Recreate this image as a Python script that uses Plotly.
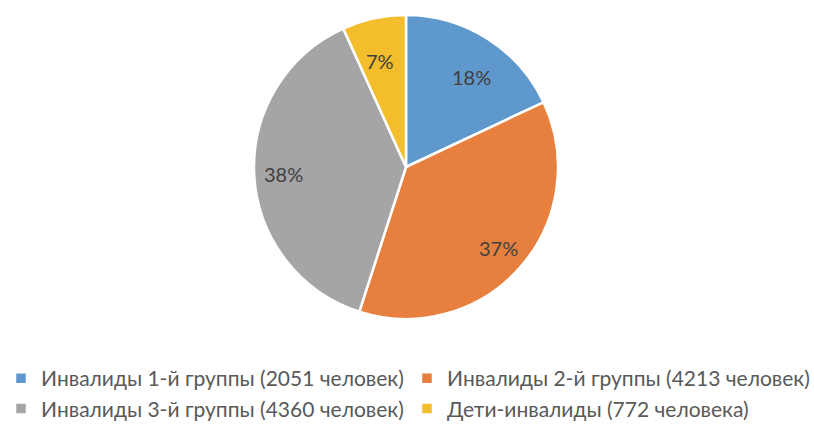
import math
import plotly.graph_objects as go

# Распределение инвалидов по группам
categories = [
    "Инвалиды 1-й группы (2051 человек)",
    "Инвалиды 2-й группы (4213 человек)",
    "Инвалиды 3-й группы (4360 человек)",
    "Дети-инвалиды (772 человека)",
]
counts = [2051, 4213, 4360, 772]
colors = ["#5F98CC", "#E7803E", "#A5A5A7", "#F4BD2C"]

W, H = 814, 428
cx, cy, r = 406, 167, 152

fig = go.Figure(
    go.Pie(
        labels=categories,
        values=counts,
        sort=False,
        direction="clockwise",
        rotation=0,
        marker=dict(colors=colors, line=dict(color="white", width=2.5)),
        textinfo="none",
        domain=dict(x=[(cx - r) / W, (cx + r) / W], y=[1 - (cy + r) / H, 1 - (cy - r) / H]),
        hoverinfo="label+value+percent",
    )
)

# Подписи долей: на 0.81 радиуса, по середине каждого сектора
total = sum(counts)
start = 0.0
for v in counts:
    frac = v / total
    mid = (start + frac / 2) * 2 * math.pi
    start += frac
    px = cx + 0.81 * r * math.sin(mid)
    py = cy - 0.81 * r * math.cos(mid)
    fig.add_annotation(
        x=px / W, y=1 - py / H, xref="paper", yref="paper",
        text=f"{round(frac * 100)}%", showarrow=False,
        font=dict(family="Lato", size=20, color="#404040"),
    )

fig.update_layout(
    width=W,
    height=H,
    margin=dict(l=0, r=0, t=0, b=0, autoexpand=False),
    paper_bgcolor="white",
    plot_bgcolor="white",
    font=dict(family="Lato", color="#595959"),
    legend=dict(
        orientation="h",
        x=0.5,
        xanchor="center",
        y=1 - 358 / H,
        yanchor="top",
        entrywidth=361,
        entrywidthmode="pixels",
        font=dict(family="Lato", size=21, color="#595959"),
    ),
)

fig.write_html("out.html")
